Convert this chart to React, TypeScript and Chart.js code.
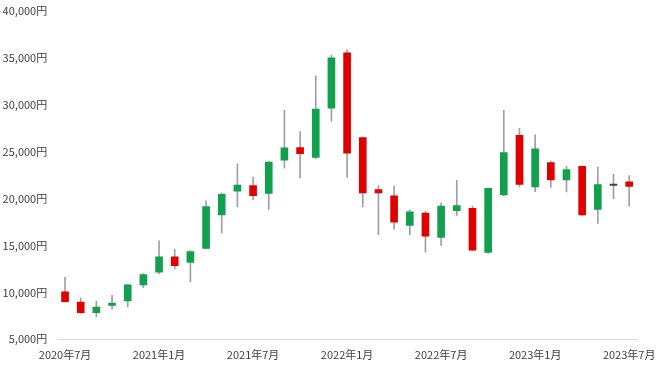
import React, { useEffect, useRef } from "react";
import { Chart, registerables } from "chart.js";

Chart.register(...registerables);

const months: string[] = [
  "2020年7月", "2020年8月", "2020年9月", "2020年10月", "2020年11月", "2020年12月",
  "2021年1月", "2021年2月", "2021年3月", "2021年4月", "2021年5月", "2021年6月",
  "2021年7月", "2021年8月", "2021年9月", "2021年10月", "2021年11月", "2021年12月",
  "2022年1月", "2022年2月", "2022年3月", "2022年4月", "2022年5月", "2022年6月",
  "2022年7月", "2022年8月", "2022年9月", "2022年10月", "2022年11月", "2022年12月",
  "2023年1月", "2023年2月", "2023年3月", "2023年4月", "2023年5月", "2023年6月",
  "2023年7月",
];

const openValues: number[] = [
  10050, 8970, 7830, 8620, 9100, 10800, 12150, 13800, 13200, 14700, 18250, 20800,
  21400, 20550, 24100, 25450, 24400, 29650, 35550, 26500, 20950, 20300, 17150, 18450,
  15850, 18700, 18950, 14250, 20400, 26750, 21250, 23850, 22000, 23450, 18850, 21400,
  21800,
];

const highValues: number[] = [
  11600, 9400, 9050, 9700, 10850, 12000, 15500, 14600, 14450, 19750, 20550, 23700,
  22300, 23950, 29400, 27150, 33100, 35300, 35850, 26550, 21400, 21350, 18750, 18650,
  19550, 21950, 19200, 21150, 29400, 27500, 26800, 24000, 23450, 23500, 23350, 22600,
  22450,
];

const lowValues: number[] = [
  8950, 7750, 7400, 8200, 8450, 10500, 12000, 12500, 11150, 14650, 16350, 19100,
  19850, 18850, 23250, 22200, 24250, 28250, 22250, 19100, 16150, 16750, 16150, 14300,
  15000, 18200, 14450, 14150, 20300, 21300, 20750, 21200, 20700, 18200, 17350, 20000,
  19200,
];

const closeValues: number[] = [
  9000, 7830, 8440, 8860, 10800, 11900, 13800, 12850, 14350, 19150, 20450, 21450,
  20300, 23900, 25400, 24800, 29550, 35000, 24850, 20600, 20600, 17500, 18600, 16000,
  19200, 19250, 14500, 21100, 24900, 21500, 25300, 22000, 23100, 18250, 21500, 21400,
  21300,
];

const xTickEvery = 6;
const UP = "#10a04e";
const DOWN = "#e00000";
const FLAT = "#404040";

export default function App() {
  const ref = useRef<HTMLCanvasElement | null>(null);

  useEffect(() => {
    if (!ref.current) return;
    const bodyColors = openValues.map((o, i) =>
      closeValues[i] > o ? UP : closeValues[i] < o ? DOWN : FLAT
    );
    const chart = new Chart(ref.current, {
      type: "bar",
      data: {
        labels: months,
        datasets: [
          {
            label: "body",
            data: openValues.map((o, i) => [o, closeValues[i]]) as any,
            backgroundColor: bodyColors,
            borderColor: bodyColors,
            borderWidth: 0,
            barThickness: 7,
            minBarLength: 1.5,
            grouped: false,
            order: 0,
          },
          {
            label: "wick",
            data: lowValues.map((l, i) => [l, highValues[i]]) as any,
            backgroundColor: "#a0a0a0",
            borderWidth: 0,
            barThickness: 1,
            grouped: false,
            order: 1,
          },
        ],
      },
      options: {
        animation: false,
        responsive: false,
        maintainAspectRatio: false,
        layout: { padding: { top: 11, left: 0, right: 23, bottom: 0 } },
        plugins: {
          legend: { display: false },
          tooltip: { enabled: false },
        },
        scales: {
          x: {
            offset: true,
            grid: { display: false, drawTicks: false },
            border: { display: true, color: "#d9d9d9", width: 1 },
            afterFit: (s: any) => {
              s.height = 31.7;
              s.paddingLeft = 0;
              s.paddingRight = 0;
            },
            ticks: {
              autoSkip: false,
              maxRotation: 0,
              minRotation: 0,
              padding: 9,
              color: "#404040",
              font: { family: "'Noto Sans CJK JP'", size: 11 },
              callback: (_v: any, i: number) => (i % xTickEvery === 0 ? months[i] : ""),
            },
          },
          y: {
            min: 5000,
            max: 40000,
            grid: { display: false, drawTicks: false },
            border: { display: false },
            afterFit: (s: any) => {
              s.width = 57.2;
              s.paddingTop = 0;
              s.paddingBottom = 0;
            },
            ticks: {
              stepSize: 5000,
              padding: 10,
              color: "#404040",
              font: { family: "'Noto Sans CJK JP'", size: 11 },
              callback: (v: any) => Number(v).toLocaleString("en-US") + "円",
            },
          },
        },
      },
    });
    return () => chart.destroy();
  }, []);

  return (
    <div style={{ position: "fixed", left: 0, top: 0, width: 660, height: 371, background: "#fff" }}>
      <canvas ref={ref} width={660} height={371} style={{ width: 660, height: 371 }} />
    </div>
  );
}
